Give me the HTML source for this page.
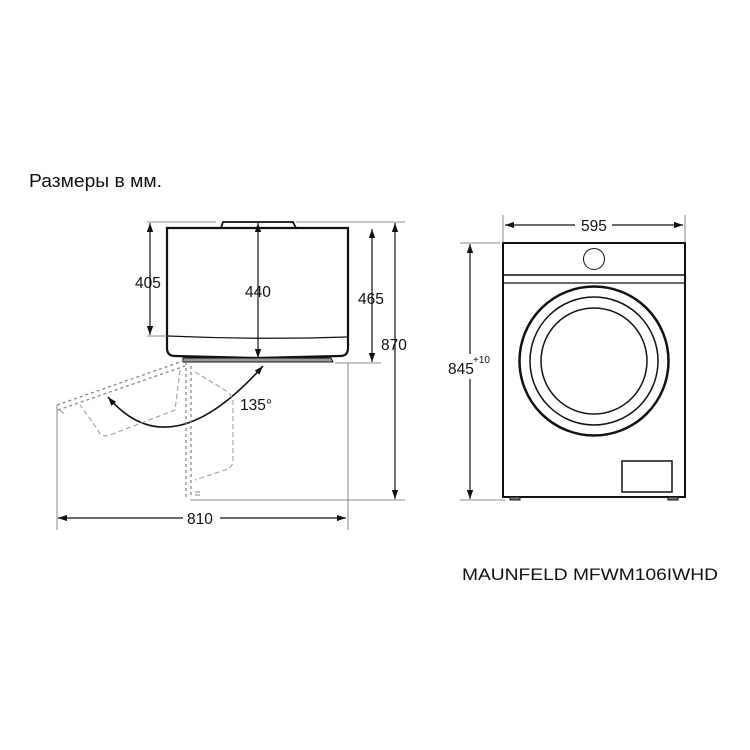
<!DOCTYPE html>
<html><head><meta charset="utf-8"><style>
html,body{margin:0;padding:0;background:#fff;}
svg{display:block;}
text{font-family:"Liberation Sans",Arial,sans-serif;fill:#111;}
</style></head><body>
<svg width="750" height="750" viewBox="0 0 750 750" xmlns="http://www.w3.org/2000/svg">
<defs>
<marker id="a" viewBox="0 0 10 10" refX="10" refY="5" markerWidth="9" markerHeight="9" orient="auto-start-reverse" markerUnits="userSpaceOnUse"><path d="M0,1.5 L10,5 L0,8.5 z" fill="#111"/></marker>
</defs>
<text x="29" y="187" font-size="18" textLength="133" lengthAdjust="spacingAndGlyphs">Размеры в мм.</text>
<text x="462" y="580" font-size="17" textLength="256" lengthAdjust="spacingAndGlyphs">MAUNFELD MFWM106IWHD</text>

<g stroke="#111" fill="none">
<path d="M167,228 H348 V348 Q348,356 340,356 L258,358 L175,356 Q167,356 167,348 Z" stroke-width="2.2"/>
<path d="M168,336 Q258,340 347,337" stroke-width="1.2"/>
<path d="M221,228 L223,222 H293 L296,228" stroke-width="1.8"/>
<path d="M183,358 H331 L333,362 H183 Z" stroke-width="1" fill="#999"/>
<g stroke-width="0.8" stroke="#666">
<line x1="147" y1="222" x2="216" y2="222"/>
<line x1="296" y1="222" x2="405" y2="222"/>
<line x1="147" y1="336" x2="168" y2="336"/>
<line x1="335" y1="363" x2="381" y2="363"/>
<line x1="190" y1="500" x2="405" y2="500"/>
<line x1="57" y1="405" x2="57" y2="530"/>
<line x1="348" y1="363" x2="348" y2="530"/>
</g>
<g stroke-width="1.2">
<line x1="150" y1="223" x2="150" y2="335" marker-start="url(#a)" marker-end="url(#a)"/>
<line x1="258" y1="223" x2="258" y2="358" marker-start="url(#a)" marker-end="url(#a)"/>
<line x1="372" y1="229" x2="372" y2="362" marker-start="url(#a)" marker-end="url(#a)"/>
<line x1="395" y1="223" x2="395" y2="499" marker-start="url(#a)" marker-end="url(#a)"/>
<line x1="58" y1="518" x2="183" y2="518" marker-start="url(#a)"/>
<line x1="220" y1="518" x2="346" y2="518" marker-end="url(#a)"/>
<path d="M108,397 Q170,470 263,366" stroke-width="1.6" marker-start="url(#a)" marker-end="url(#a)"/>
</g>
<g stroke="#888" stroke-width="1.3" stroke-dasharray="3,3">
<path d="M57,405 L186,360"/>
<path d="M58,410 L185,366"/>
<path d="M186,362 V498"/>
<path d="M191,366 V498"/>
</g>
<g stroke="#999" stroke-width="1" stroke-dasharray="5,3">
<path d="M180,370 L175,410 L110,435 Q100,438 98,430 L80,405"/>
<path d="M195,372 L225,390 Q233,395 233,402 V460 Q233,468 225,470 L195,480"/>
<path d="M60,410 L65,415"/>
</g>
<line x1="195" y1="492" x2="200" y2="492" stroke="#888"/>
<line x1="195" y1="495" x2="200" y2="495" stroke="#888"/>

<rect x="503" y="243" width="182" height="254" stroke-width="2"/>
<line x1="504" y1="275" x2="684" y2="275" stroke-width="1.5"/>
<line x1="504" y1="283" x2="684" y2="283" stroke-width="1.2"/>
<circle cx="594" cy="259" r="10.5" stroke-width="1"/>
<circle cx="594" cy="361" r="74.5" stroke-width="2.5"/>
<circle cx="594" cy="361" r="64" stroke-width="1.5"/>
<circle cx="594" cy="361" r="53" stroke-width="1.5"/>
<rect x="622" y="461" width="50" height="31" stroke-width="1.5"/>
<rect x="510" y="497" width="10" height="3" stroke-width="1" fill="#777"/>
<rect x="668" y="497" width="10" height="3" stroke-width="1" fill="#777"/>
<g stroke-width="0.8" stroke="#666">
<line x1="503" y1="215" x2="503" y2="243"/>
<line x1="685" y1="215" x2="685" y2="243"/>
<line x1="460" y1="243" x2="500" y2="243"/>
<line x1="460" y1="500" x2="505" y2="500"/>
</g>
<g stroke-width="1.2">
<line x1="505" y1="225" x2="575" y2="225" marker-start="url(#a)"/>
<line x1="612" y1="225" x2="683" y2="225" marker-end="url(#a)"/>
<line x1="470" y1="244" x2="470" y2="354" marker-start="url(#a)"/>
<line x1="470" y1="379" x2="470" y2="499" marker-end="url(#a)"/>
</g>
</g>
<g font-size="15.5">
<text x="135" y="288">405</text>
<text x="245" y="297">440</text>
<text x="358" y="304">465</text>
<text x="381" y="350">870</text>
<text x="240" y="410">135°</text>
<text x="187" y="524">810</text>
<text x="581" y="231">595</text>
<text x="448" y="374">845</text>
<text x="473" y="363" font-size="10">+10</text>
</g>
</svg>
</body></html>
